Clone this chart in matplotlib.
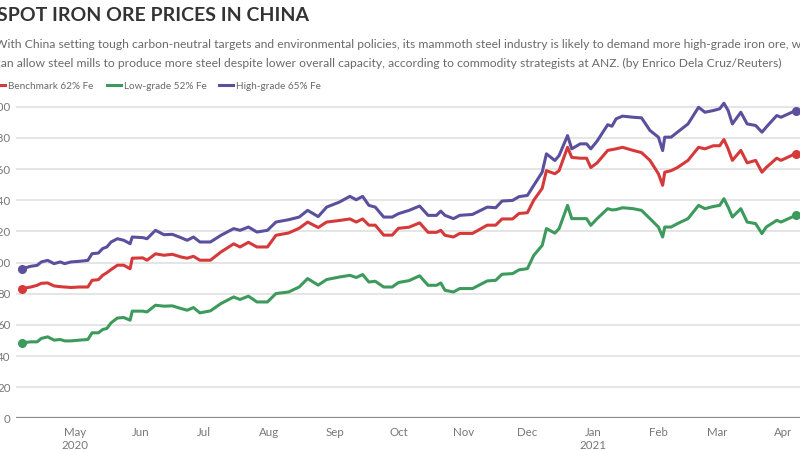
import matplotlib
matplotlib.use("Agg")
import matplotlib.pyplot as plt
import matplotlib.dates as mdates
import pandas as pd

dates = ["2020-04-06","2020-04-10","2020-04-13","2020-04-15","2020-04-18","2020-04-21","2020-04-24","2020-04-26","2020-04-29","2020-05-03",
         "2020-05-07","2020-05-09","2020-05-12","2020-05-14","2020-05-16","2020-05-18","2020-05-21","2020-05-24","2020-05-27","2020-05-28",
         "2020-06-02","2020-06-04","2020-06-08","2020-06-12","2020-06-16","2020-06-20","2020-06-23","2020-06-26","2020-06-29","2020-07-04",
         "2020-07-09","2020-07-15","2020-07-18","2020-07-22","2020-07-26","2020-07-31","2020-08-04","2020-08-10","2020-08-15","2020-08-19",
         "2020-08-24","2020-08-28","2020-09-03","2020-09-08","2020-09-11","2020-09-14","2020-09-17","2020-09-20","2020-09-24","2020-09-28",
         "2020-10-01","2020-10-06","2020-10-11","2020-10-15","2020-10-19","2020-10-21","2020-10-23","2020-10-27","2020-10-30","2020-11-05",
         "2020-11-12","2020-11-16","2020-11-19","2020-11-24","2020-11-27","2020-12-01","2020-12-04","2020-12-08","2020-12-10","2020-12-14",
         "2020-12-16","2020-12-20","2020-12-22","2020-12-26","2020-12-29","2020-12-31","2021-01-03","2021-01-08","2021-01-10","2021-01-12",
         "2021-01-15","2021-01-20","2021-01-24","2021-01-28","2021-02-01","2021-02-03","2021-02-04","2021-02-07","2021-02-10","2021-02-15",
         "2021-02-20","2021-02-23","2021-02-27","2021-03-02","2021-03-04","2021-03-06","2021-03-08","2021-03-12","2021-03-15","2021-03-19",
         "2021-03-22","2021-03-24","2021-03-29","2021-03-31","2021-04-07"]

benchmark = [83.3,84.3,85.4,86.7,86.9,85.0,84.5,84.3,84.0,84.3,
             84.3,88.6,89.0,91.8,93.5,95.5,98.3,98.3,96.0,102.8,
             103.0,101.5,105.6,104.7,105.3,103.6,102.8,104.0,101.5,101.5,
             106.8,112.0,110.0,113.0,110.0,110.0,117.5,119.0,122.0,126.0,
             122.5,126.0,127.0,128.0,126.0,128.0,124.0,124.0,117.6,117.6,
             122.0,122.7,125.5,119.4,119.4,120.7,117.5,116.4,118.7,118.7,
             124.0,124.0,128.0,128.0,131.5,132.0,140.0,147.6,159.0,157.0,
             159.0,174.0,167.5,167.0,167.0,161.0,164.0,172.0,172.5,173.0,
             174.0,172.0,170.6,165.6,157.0,149.6,158.0,159.0,161.0,165.6,
             174.0,173.0,175.0,175.0,179.0,173.0,165.6,172.0,164.0,165.6,
             158.0,161.0,167.0,165.6,170.0]

low_grade = [48.5,49.1,49.1,51.3,52.3,50.2,50.6,49.7,49.7,50.2,
             50.6,54.9,54.9,57.0,57.7,61.3,64.4,64.7,63.0,68.8,
             68.8,68.3,72.6,72.0,72.2,70.5,69.4,71.1,67.7,69.0,
             73.7,77.9,76.3,78.4,74.7,74.7,80.1,81.1,84.3,89.7,
             85.5,89.1,90.7,91.8,90.4,92.3,87.5,88.0,84.3,84.3,
             87.2,88.4,91.5,85.4,85.4,86.9,82.2,81.1,83.3,83.3,
             88.2,88.6,92.5,92.9,95.3,96.1,104.6,111.0,121.8,118.9,
             121.8,136.7,128.2,128.2,128.2,123.9,128.2,134.6,133.8,134.0,
             135.2,134.6,133.5,128.2,122.8,116.4,122.8,122.8,125.0,128.2,
             136.7,134.6,136.0,136.7,141.0,135.6,129.2,134.6,126.0,125.0,
             118.6,122.8,127.1,126.0,130.3]

high_grade = [96.1,97.6,98.2,100.4,101.4,99.3,100.4,99.3,100.4,100.8,
              101.4,105.7,106.1,109.0,110.0,113.2,115.3,114.3,112.1,116.4,
              116.0,115.3,120.7,117.9,118.1,116.0,114.3,116.4,113.2,113.2,
              117.5,121.8,120.7,122.8,119.6,120.7,126.0,127.5,129.2,133.5,
              129.5,135.6,138.8,142.5,140.3,142.5,136.7,135.6,129.2,129.2,
              131.4,133.5,136.3,130.3,130.3,133.0,130.3,128.2,130.3,130.9,
              135.6,135.2,139.5,139.9,142.3,143.1,149.5,158.0,169.8,165.5,
              168.7,181.5,173.0,176.2,176.2,173.0,178.0,188.5,187.5,192.3,
              194.0,193.3,192.9,184.8,180.5,171.9,180.5,180.5,183.7,189.0,
              199.7,196.5,197.6,198.7,202.3,197.6,189.0,196.5,189.0,188.0,
              183.7,186.9,194.4,193.3,197.6]

series_names = ["Benchmark 62% Fe", "Low-grade 52% Fe", "High-grade 65% Fe"]
colors = ["#d6393a", "#3c9a5c", "#5a509e"]
y_ticks = [0, 20, 40, 60, 80, 100, 120, 140, 160, 180, 200]

plt.rcParams['font.family'] = ['Lato', 'DejaVu Sans']

x = pd.to_datetime(dates)
fig = plt.figure(figsize=(8, 4.5), dpi=100)
ax = fig.add_axes([0.02, 0.0704, 0.98, 0.7096])

for vals, col, name in zip([benchmark, low_grade, high_grade], colors, series_names):
    ax.plot(x, vals, color=col, lw=2.2, label=name, solid_joinstyle='round', zorder=3)
    ax.plot([x[0], x[-1]], [vals[0], vals[-1]], 'o', color=col, ms=5.5, zorder=4)

ax.set_ylim(0, 205)
ax.set_xlim(pd.Timestamp("2020-04-03"), pd.Timestamp("2021-04-09"))
ax.set_yticks(y_ticks)
ax.yaxis.grid(True, color="#dedede", lw=1.1)
ax.set_axisbelow(True)
for s in ax.spines.values():
    s.set_visible(False)
ax.axhline(0, color="#8a8a8a", lw=1.6, zorder=2)

ax.xaxis.set_major_locator(mdates.MonthLocator())
def fmt(d, pos=None):
    d = mdates.num2date(d)
    if d.month == 5 and d.year == 2020:
        return "May\n2020"
    if d.month == 1:
        return d.strftime("%b") + "\n" + str(d.year)
    return d.strftime("%b")
ax.xaxis.set_major_formatter(plt.FuncFormatter(fmt))
ax.tick_params(axis='x', length=0, pad=6, labelsize=8.3, colors="#777777")
ax.tick_params(axis='y', length=0, pad=4, labelsize=8.3, colors="#777777")
for lab in ax.get_xticklabels():
    lab.set_linespacing(1.25)
# the April 2020 tick has no label in the reference
fig.canvas.draw()
for t, lab in zip(ax.get_xticks(), ax.get_xticklabels()):
    if mdates.num2date(t).year == 2020 and mdates.num2date(t).month == 4:
        lab.set_visible(False)

fig.text(-0.004, 0.965, "SPOT IRON ORE PRICES IN CHINA", fontsize=14, fontweight='bold',
         color="#333333", va='center', ha='left')
fig.text(-0.006, 0.902, "With China setting tough carbon-neutral targets and environmental policies, its mammoth steel industry is likely to demand more high-grade iron ore, which",
         fontsize=8.72, color="#6a6a6a", va='center', ha='left')
fig.text(-0.006, 0.860, "can allow steel mills to produce more steel despite lower overall capacity, according to commodity strategists at ANZ. (by Enrico Dela Cruz/Reuters)",
         fontsize=8.72, color="#6a6a6a", va='center', ha='left')

leg = ax.legend(loc='center left', bbox_to_anchor=(-0.011, 0.808), bbox_transform=fig.transFigure,
                ncol=3, frameon=False, fontsize=7.2, handlelength=1.4, handletextpad=0.3,
                columnspacing=1.3, borderpad=0, borderaxespad=0)
for t in leg.get_texts():
    t.set_color("#6a6a6a")

fig.savefig("out.png", dpi=100)
